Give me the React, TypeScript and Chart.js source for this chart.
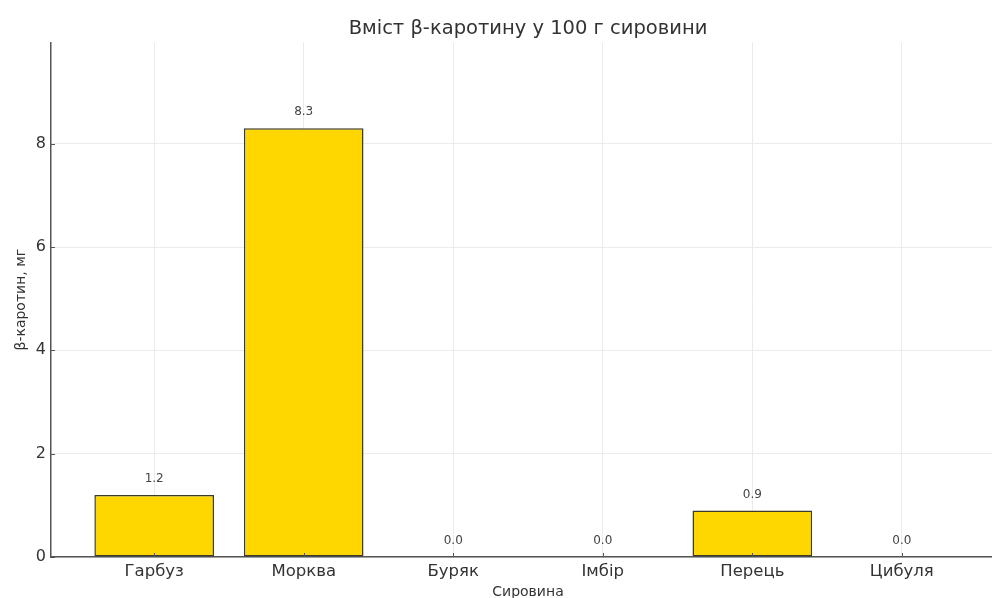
import React, { useEffect, useRef } from "react";
import { Chart, registerables } from "chart.js";

Chart.register(...registerables);

// Raw materials and their beta-carotene content, mg per 100 g
const categories: string[] = ["Гарбуз", "Морква", "Буряк", "Імбір", "Перець", "Цибуля"];
const caroteneMg: number[] = [1.2, 8.3, 0.0, 0.0, 0.9, 0.0];
const yTicks: number[] = [0, 2, 4, 6, 8];

const titleText = "Вміст β-каротину у 100 г сировини";
const xTitle = "Сировина";
const yTitle = "β-каротин, мг";

const FONT = "'DejaVu Sans', sans-serif";
const TEXT = "#333333";

// Writes each bar's value just above it
const valueLabels = {
  id: "valueLabels",
  afterDatasetsDraw(chart: any) {
    const { ctx } = chart;
    const meta = chart.getDatasetMeta(0);
    ctx.save();
    ctx.font = `12px ${FONT}`;
    ctx.fillStyle = "#444444";
    ctx.textAlign = "center";
    ctx.textBaseline = "middle";
    meta.data.forEach((bar: any, i: number) => {
      ctx.fillText(caroteneMg[i].toFixed(1), bar.x, bar.y - 16);
    });
    ctx.restore();
  },
};

// Short tick marks pointing into the plot from the left and bottom axes
const innerTicks = {
  id: "innerTicks",
  afterDraw(chart: any) {
    const { ctx, chartArea } = chart;
    const xs = chart.scales.x;
    const ys = chart.scales.y;
    ctx.save();
    ctx.strokeStyle = "#555555";
    ctx.lineWidth = 1;
    ctx.beginPath();
    xs.ticks.forEach((t: any) => {
      const px = Math.round(xs.getPixelForValue(t.value)) + 0.5;
      ctx.moveTo(px, chartArea.bottom);
      ctx.lineTo(px, chartArea.bottom - 4);
    });
    ys.ticks.forEach((t: any) => {
      const py = Math.round(ys.getPixelForValue(t.value)) + 0.5;
      ctx.moveTo(chartArea.left, py);
      ctx.lineTo(chartArea.left + 4, py);
    });
    ctx.stroke();
    ctx.restore();
  },
};

export default function App() {
  const ref = useRef<HTMLCanvasElement>(null);

  useEffect(() => {
    if (!ref.current) return;
    const chart = new Chart(ref.current, {
      type: "bar",
      data: {
        datasets: [
          {
            data: caroteneMg.map((v, i) => ({ x: i, y: v })),
            backgroundColor: "#FFD700",
            borderColor: "#3d3a28",
            borderWidth: (c: any) => (c.raw && c.raw.y === 0 ? 0 : 1.5),
            borderSkipped: false,
            categoryPercentage: 1,
            barPercentage: 0.8,
          },
        ],
      },
      options: {
        animation: false,
        responsive: false,
        devicePixelRatio: 1,
        layout: { padding: { left: 0, right: 5, top: 0, bottom: 0 } },
        plugins: {
          legend: { display: false },
          tooltip: { enabled: false },
          title: {
            display: true,
            text: titleText,
            fullSize: false,
            color: TEXT,
            font: { family: FONT, size: 19.5, weight: "normal" },
            padding: { top: 17, bottom: 2 },
          },
        },
        scales: {
          x: {
            type: "linear",
            offset: false,
            min: -0.69,
            max: 5.69,
            afterBuildTicks: (s: any) => {
              s.ticks = categories.map((_, i) => ({ value: i }));
            },
            afterFit: (s: any) => {
              s.height = 41;
            },
            ticks: {
              color: TEXT,
              font: { family: FONT, size: 16.5 },
              padding: 5,
              autoSkip: false,
              maxRotation: 0,
              callback: (v: any) => categories[v as number] ?? "",
            },
            grid: { color: "#ebebeb", lineWidth: 1, drawTicks: false, offset: false },
            border: { display: true, color: "#555555", width: 1.5 },
            title: {
              display: true,
              text: xTitle,
              color: TEXT,
              font: { family: FONT, size: 14 },
              padding: { top: 0, bottom: -3 },
            },
          },
          y: {
            type: "linear",
            min: 0,
            max: 9.96,
            afterBuildTicks: (s: any) => {
              s.ticks = yTicks.map((v) => ({ value: v }));
            },
            afterFit: (s: any) => {
              s.width = 51;
            },
            ticks: {
              color: TEXT,
              font: { family: FONT, size: 16 },
              padding: 5,
            },
            grid: { color: "#ebebeb", lineWidth: 1, drawTicks: false },
            border: { display: true, color: "#555555", width: 1.5 },
            title: {
              display: true,
              text: yTitle,
              color: TEXT,
              font: { family: FONT, size: 14 },
              padding: { top: 13, bottom: 0 },
            },
          },
        },
      },
      plugins: [valueLabels, innerTicks],
    } as any);
    return () => chart.destroy();
  }, []);

  return (
    <div style={{ position: "fixed", left: 0, top: 0, width: 1010, height: 598, background: "#ffffff" }}>
      <canvas ref={ref} width={1010} height={598} />
    </div>
  );
}
